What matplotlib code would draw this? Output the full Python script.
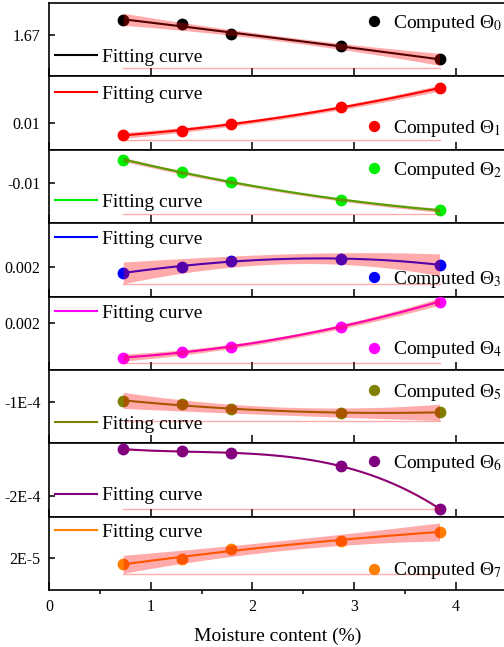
import numpy as np
import matplotlib
matplotlib.use('Agg')
import matplotlib.pyplot as plt

plt.rcParams['font.family'] = ['Liberation Serif', 'DejaVu Serif']
plt.rcParams['mathtext.fontset'] = 'stix'

# ---------------- data ----------------
moisture = [0.73, 1.31, 1.79, 2.87, 3.84]
theta0 = [1.685, 1.681, 1.671, 1.659, 1.646]
theta1 = [0.0076, 0.0084, 0.0098, 0.0132, 0.0170]
theta2 = [-0.0054, -0.0078, -0.0098, -0.0134, -0.0154]
theta3 = [0.00188, 0.00200, 0.00212, 0.00216, 0.00204]
theta4 = [0.00130, 0.00142, 0.00152, 0.00192, 0.00242]
theta5 = [-0.000099, -0.000102, -0.000107, -0.000111, -0.000110]
theta6 = [-0.000106, -0.000110, -0.000114, -0.000140, -0.000226]
theta7 = [1.88e-5, 1.98e-5, 2.18e-5, 2.34e-5, 2.52e-5]
series = [theta0, theta1, theta2, theta3, theta4, theta5, theta6, theta7]

# confidence band half-widths (at the ends / in the middle of the range)
band_end = [0.006, 0.0006, 0.0004, 0.00022, 0.00007, 8e-6, 1e-6, 1.8e-6]
band_mid = [0.0025, 0.0004, 0.0003, 0.0001, 0.00004, 4e-6, 0.5e-6, 1.0e-6]
fit_degree = [2, 2, 2, 3, 2, 2, 3, 2]

ytick_values = [1.67, 0.01, -0.01, 0.002, 0.002, -1e-4, -2e-4, 2e-5]
ytick_labels = ['1.67', '0.01', '-0.01', '0.002', '0.002', '-1E-4', '-2E-4', '2E-5']
ylims = [(1.629, 1.702), (0.0046, 0.0194), (-0.018, -0.0034), (0.0014, 0.00288),
         (0.00106, 0.00252), (-0.000141, -0.000068), (-0.000242, -0.000094),
         (1.36e-5, 2.82e-5)]
xticks = [0, 1, 2, 3, 4]

colors = ['#000000', '#ff0000', '#00ee00', '#0000ff', '#ff00ff', '#808000', '#800080', '#ff8000']

# layout (axes fractions)
fit_leg_y = [0.259, 0.763, 0.286, 0.777, 0.777, 0.259, 0.286, 0.790]
comp_leg_y = [0.722, 0.286, 0.722, 0.232, 0.272, 0.695, 0.722, 0.259]
base_line_y = [0.11, 0.136, 0.123, 0.177, 0.095, 0.30, 0.109, 0.218]

fig, axes = plt.subplots(8, 1, sharex=True, figsize=(5.04, 6.47), dpi=100)
fig.subplots_adjust(left=49/504, right=(49 + 4.5*101.7)/504,
                    top=1 - 3/647, bottom=1 - 590/647, hspace=0)

x = np.array(moisture)
xs = np.linspace(x.min(), x.max(), 300)
xc = (x.min() + x.max()) / 2
hr = (x.max() - x.min()) / 2
band_color = (1.0, 0.0, 0.0, 0.33)

for i, ax in enumerate(axes):
    y = np.array(series[i])
    coef = np.polyfit(x, y, fit_degree[i])
    yf = np.polyval(coef, xs)
    hw = band_mid[i] + (band_end[i] - band_mid[i]) * ((xs - xc) / hr) ** 2
    line, = ax.plot(xs, yf, color=colors[i], lw=1.5, zorder=2)
    pts, = ax.plot(x, y, 'o', color=colors[i], ms=7.5, zorder=3, linestyle='none')
    ax.fill_between(xs, yf - hw, yf + hw, color=band_color, lw=0, zorder=4)
    ax.plot([x.min(), x.max()], [base_line_y[i], base_line_y[i]], color=band_color,
            lw=1.0, transform=ax.get_xaxis_transform(), zorder=4)

    ax.set_ylim(*ylims[i])
    ax.set_xlim(0, 4.5)
    ax.set_yticks([ytick_values[i]])
    ax.set_yticklabels([ytick_labels[i]])
    ax.set_xticks(xticks)
    ax.set_xticks(np.arange(0.5, 4.5, 1.0), minor=True)
    ax.tick_params(axis='both', direction='in', labelsize=11.5, width=1.1)
    ax.tick_params(axis='x', which='major', length=5.5, pad=6.5)
    ax.tick_params(axis='x', which='minor', length=3, width=1.1)
    ax.tick_params(axis='y', length=4, pad=6)
    for s in ax.spines.values():
        s.set_linewidth(1.2)

    leg1 = ax.legend([line], ['Fitting curve'], loc='center left',
                     bbox_to_anchor=(0.013, fit_leg_y[i]), frameon=False,
                     borderpad=0, borderaxespad=0, handlelength=2.15,
                     handletextpad=0.26, fontsize=14)
    ax.add_artist(leg1)
    ax.legend([pts], ['Computed \u0398$_{%d}$' % i], loc='center left',
              bbox_to_anchor=(0.689, comp_leg_y[i]), frameon=False,
              borderpad=0, borderaxespad=0, handlelength=1.0,
              handletextpad=0.5, fontsize=14, markerscale=0.95)

axes[-1].set_xlabel('Moisture content (%)', fontsize=14, labelpad=9)

fig.savefig('out.png', dpi=100)
